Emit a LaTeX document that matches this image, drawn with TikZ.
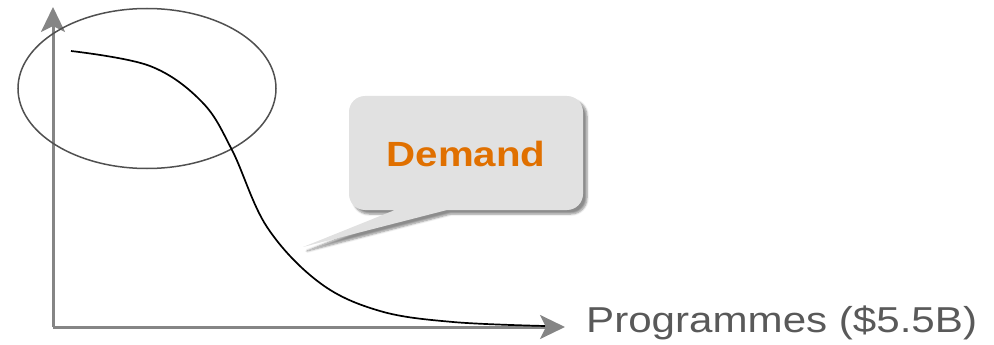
\documentclass[tikz,border=0pt]{standalone}
\usepackage{fontspec}
\setmainfont{Liberation Sans}
\usetikzlibrary{arrows.meta,shadows.blur,shapes.geometric}
\definecolor{axisgray}{HTML}{858585}
\definecolor{ringgray}{HTML}{505050}
\definecolor{labelgray}{HTML}{595959}
\definecolor{bubblefill}{HTML}{E1E1E1}
\definecolor{demandorange}{HTML}{E07000}
\tikzset{
  axisline/.style={draw=axisgray, line width=3pt,
    -{Stealth[length=25pt,width=24pt,inset=6pt]}},
  ring/.style={draw=ringgray, line width=1.5pt},
  demandcurve/.style={draw=black, line width=1.7pt},
  bubble/.style={fill=bubblefill, draw=none,
    blur shadow={shadow xshift=4pt, shadow yshift=-4pt,
      shadow blur steps=6, shadow opacity=45}},
}
\begin{document}
\begin{tikzpicture}[x=1pt,y=-1pt]
\useasboundingbox (0,0) rectangle (994,345);

% axes
\coordinate (origin) at (53,327);
\coordinate (ytip) at (53,7);
\coordinate (xtip) at (565,327);
\draw[axisline] (origin) -- (ytip);
\draw[axisline] (origin) -- (xtip);

% highlighted region
\node[ring, ellipse, minimum width=258pt, minimum height=160pt, inner sep=0pt] (region) at (147,88.5) {};

% demand curve
\draw[demandcurve] plot[smooth, tension=0.6] coordinates {
  (71,51) (150,66) (202,102) (232,150) (267,227) (320,283)
  (380,311) (453,322) (545,326)};

% callout bubble
\path[bubble] (395,210) -- (303,247) -- (447,210)
  [rounded corners=16pt] -- (583,210) -- (583,96) -- (349,96) -- (349,210)
  [sharp corners] -- (395,210) -- cycle;
\node[text=demandorange, font=\bfseries\fontsize{35}{40}\selectfont, inner sep=0pt,
  anchor=base] (demand) at (466,166) {\scalebox{1.15}[1]{Demand}};

% axis label
\node[text=labelgray, font=\fontsize{36}{42}\selectfont, inner sep=0pt,
  anchor=base west] (xlabel) at (586,332) {\scalebox{1.17}[1]{Programmes (\$5.5B)}};
\end{tikzpicture}
\end{document}
